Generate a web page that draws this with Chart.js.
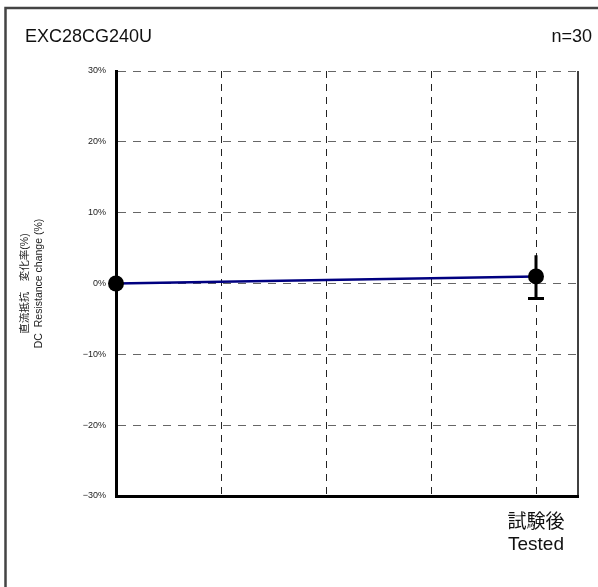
<!DOCTYPE html>
<html>
<head>
<meta charset="utf-8">
<script src="https://cdn.jsdelivr.net/npm/chart.js@4.4.0/dist/chart.umd.min.js"></script>
<style>
  body { margin: 0; background: #fff; }
  canvas { display: block; }
</style>
</head>
<body>
<canvas id="canvas1" width="598" height="587"></canvas>
<script>
// values
const partName = 'EXC28CG240U';
const sampleCount = 'n=30';
const xPos = [0, 4];
const meanVals = [0, 1.0];
const errLow = [null, -2.1];
const errHigh = [null, 4.0];
const xTickLabels = ['', '', '', '', ['試験後', 'Tested']];
const yTitle = ['直流抵抗　変化率(%)', 'DC  Resistance change (%)'];

// frame, headings, right edge and error bars
const extras = {
  id: 'extras',
  beforeDraw(chart) {
    const ctx = chart.ctx;
    ctx.save();
    ctx.fillStyle = '#fff';
    ctx.fillRect(0, 0, chart.width, chart.height);
    ctx.strokeStyle = '#444';
    ctx.lineWidth = 2.5;
    ctx.strokeRect(5.5, 8, 700, 700);
    ctx.fillStyle = '#111';
    ctx.font = '18px "Liberation Sans", Arial, sans-serif';
    ctx.textBaseline = 'alphabetic';
    ctx.textAlign = 'left';
    ctx.fillText(partName, 25, 42);
    ctx.textAlign = 'right';
    ctx.fillText(sampleCount, 592, 42);
    ctx.restore();
  },
  beforeDatasetsDraw(chart) {
    const ctx = chart.ctx;
    const area = chart.chartArea;
    const xs = chart.scales.x, ys = chart.scales.y;
    ctx.save();
    ctx.strokeStyle = '#000';
    ctx.lineWidth = 1.5;
    ctx.beginPath();
    ctx.moveTo(area.right, area.top);
    ctx.lineTo(area.right, area.bottom);
    ctx.stroke();
    ctx.lineWidth = 3;
    for (let i = 0; i < xPos.length; i++) {
      if (errLow[i] == null) continue;
      const px = xs.getPixelForValue(xPos[i]);
      const lo = ys.getPixelForValue(errLow[i]);
      const hi = ys.getPixelForValue(errHigh[i]);
      ctx.beginPath();
      ctx.moveTo(px, hi);
      ctx.lineTo(px, lo);
      ctx.moveTo(px - 8, lo);
      ctx.lineTo(px + 8, lo);
      ctx.stroke();
    }
    ctx.restore();
  }
};

let myChart = document.getElementById('canvas1').getContext('2d');
let resChart = new Chart(myChart, {
  type: 'line',
  data: {
    datasets: [{
      data: xPos.map((x, i) => ({x: x, y: meanVals[i]})),
      borderColor: '#000080',
      borderWidth: 2.5,
      pointRadius: 8,
      pointBackgroundColor: '#000',
      pointBorderColor: '#000',
      pointBorderWidth: 0,
      tension: 0,
      clip: false
    }]
  },
  options: {
    responsive: false,
    animation: false,
    devicePixelRatio: 1,
    layout: { padding: { top: 71, right: 20, left: 0, bottom: 0 } },
    plugins: { legend: { display: false }, tooltip: { enabled: false } },
    scales: {
      x: {
        type: 'linear',
        min: 0,
        max: 4.4,
        afterBuildTicks: function(scale) {
          scale.ticks = xTickLabels.map((l, i) => ({value: i}));
        },
        afterFit: function(scale) { scale.height = 91; },
        grid: { color: '#222', lineWidth: 1, drawTicks: false },
        border: { color: '#000', width: 3, dash: [7, 6] },
        ticks: {
          padding: 16,
          color: '#111',
          maxRotation: 0,
          autoSkip: false,
          font: { family: '"Liberation Sans", "Noto Sans CJK JP", sans-serif', size: 19, lineHeight: '22px' },
          callback: function(v) { return xTickLabels[v] || ''; }
        }
      },
      y: {
        min: -30,
        max: 30,
        afterFit: function(scale) { scale.width = 116; },
        grid: { color: '#666', lineWidth: 1, drawTicks: false },
        border: { color: '#000', width: 3, dash: [8, 7] },
        ticks: {
          stepSize: 10,
          padding: 10,
          color: '#222',
          font: { family: '"Liberation Sans", Arial, sans-serif', size: 9 },
          callback: function(v) { return (v < 0 ? '\u2212' + (-v) : v) + '%'; }
        },
        title: {
          display: true,
          text: yTitle,
          color: '#222',
          padding: { top: 18, bottom: 0 },
          font: { family: '"Liberation Sans", "Noto Sans CJK JP", sans-serif', size: 10.5, lineHeight: '14px' }
        }
      }
    }
  },
  plugins: [extras]
});
</script>
</body>
</html>
